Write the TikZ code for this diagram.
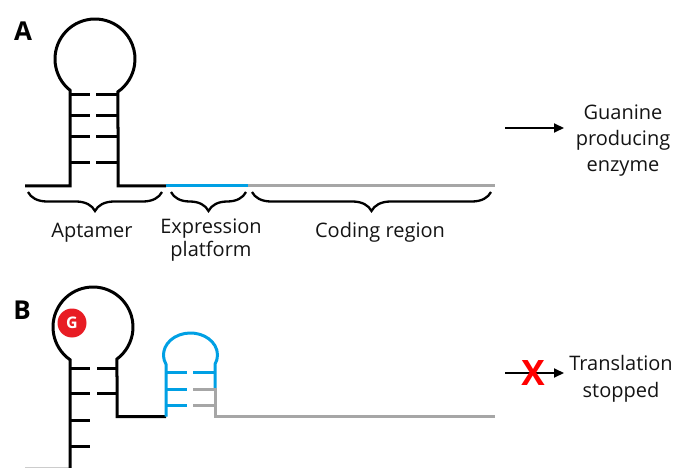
\documentclass[tikz,border=0pt]{standalone}
\usepackage{fontspec}
\setmainfont{Open Sans}
\usetikzlibrary{arrows.meta,decorations.pathreplacing}
\definecolor{rnablue}{RGB}{0,160,228}
\definecolor{rnagray}{RGB}{166,166,166}
\definecolor{gred}{RGB}{232,28,36}
\definecolor{txt}{RGB}{20,20,20}
\begin{document}
\begin{tikzpicture}[x=1pt,y=-1pt,
  strand/.style={line width=3pt, line join=miter},
  rung/.style={line width=3pt},
  bracepath/.style={decorate, decoration={brace,mirror,amplitude=19pt}, line width=2.3pt},
  lbl/.style={font=\fontsize{20}{23}\selectfont, align=center, inner sep=0pt, text=txt},
  panel/.style={font=\fontsize{26}{26}\selectfont\bfseries, inner sep=0pt},
  arrowline/.style={line width=2pt, -{Triangle[length=10pt,width=9pt]}}]
\useasboundingbox (0,0) rectangle (675,468);

% ---------- Panel A ----------
\node[panel] (labA) at (23,31) {A};
\draw[strand] (25,186) -- (70,186) -- (70,{59+sqrt(40^2-25^2)})
  arc[start angle={180-acos(25/40)}, end angle={360+acos(23/40)}, radius=40]
  -- (118,186) -- (166,186);
\foreach \yy in {95,116,137,163} {
  \draw[rung] (70,\yy) -- (90,\yy);
  \draw[rung] (96,\yy) -- (118,\yy);
}
\draw[strand, rnablue] (166,186) -- (248,186);
\draw[strand, rnagray] (248,186) -- (495,186);

\draw[bracepath] (28,192) -- (162,192);
\draw[bracepath] (171,192) -- (246,192);
\draw[bracepath] (252,192) -- (491,192);

\node[lbl] (apt) at (92,233) {Aptamer};
\node[lbl, font=\fontsize{20}{23}\selectfont] (expr) at (211,240.5) {Expression\\platform};
\node[lbl] (cod) at (380,232) {Coding region};

\coordinate (arrAs) at (505,128);
\coordinate (arrAe) at (564,128);
\draw[arrowline] (arrAs) -- (arrAe);
\node[lbl, font=\fontsize{20}{26}\selectfont] (gpe) at (623,141) {Guanine\\producing\\enzyme};

% ---------- Panel B ----------
\node[panel] (labB) at (22,310) {B};
\draw[gray!40, line width=1.5pt] (25,467.5) -- (70,467.5);
\draw[strand] (70,470) -- (70,{327+sqrt(40^2-23^2)})
  arc[start angle={180-acos(23/40)}, end angle={360+acos(24/40)}, radius=40]
  -- (117,416.5) -- (166,416.5);
\foreach \yy in {368,393,420,446} {
  \draw[rung] (70,\yy) -- (90,\yy);
}
\foreach \yy in {368,393} {
  \draw[rung] (97,\yy) -- (117,\yy);
}
% blue hairpin
\draw[strand, rnablue] (166,416.5) -- (166,{355+22*sin(180-acos(24.5/27))})
  arc[start angle={180-acos(24.5/27)}, end angle={360+acos(24.5/27)}, x radius=27, y radius=22]
  -- (215,389);
\foreach \yy in {372,389,405} {
  \draw[rung, rnablue] (166,\yy) -- (187,\yy);
}
\draw[rung, rnablue] (193,372) -- (215,372);
\draw[rung, rnagray] (193,405) -- (215,405);
\draw[strand, rnagray] (193,389) -- (215,389) -- (215,416.5) -- (495,416.5);

% guanine
\node[circle, fill=gred, minimum size=29pt, inner sep=0pt, text=white,
  font=\fontsize{16}{16}\selectfont\bfseries] (gua) at (72,323) {G};

\coordinate (arrBs) at (505,373);
\coordinate (arrBe) at (564,373);
\draw[arrowline] (arrBs) -- (arrBe);
\node[text=red, font=\fontsize{35}{35}\selectfont\bfseries, inner sep=0pt] (xmark) at (533,373) {X};
\node[lbl, font=\fontsize{20}{27}\selectfont] (trs) at (621,378.5) {Translation\\stopped};
\end{tikzpicture}
\end{document}
